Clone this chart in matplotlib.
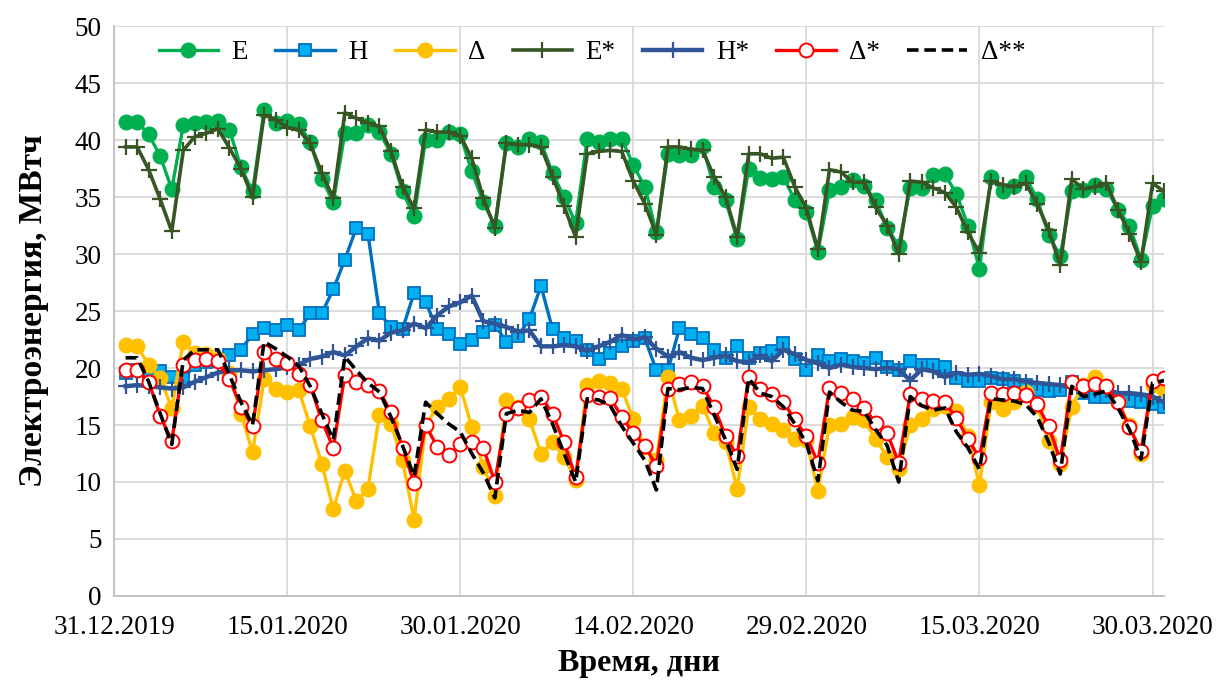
import pandas as pd
import matplotlib.pyplot as plt
import matplotlib.dates as mdates

plt.rcParams['font.family'] = ['Liberation Serif', 'DejaVu Serif']

days = pd.date_range("2020-01-01", periods=91, freq="D")

E = [41.55, 41.6, 40.5, 38.6, 35.7, 41.3, 41.5, 41.6, 41.7, 40.9,
     37.6, 35.5, 42.6, 41.5, 41.7, 41.4, 39.85, 36.55, 34.6, 40.6,
     40.6, 41.3, 40.7, 38.8, 35.5, 33.3, 40.0, 40.0, 40.7, 40.5,
     37.25, 34.55, 32.5, 39.7, 39.4, 40.1, 39.8, 37.1, 35.0, 32.7,
     40.1, 39.8, 40.1, 40.1, 37.8, 35.9, 31.9, 38.8, 38.7, 38.7,
     39.5, 35.9, 34.7, 31.3, 37.5, 36.7, 36.6, 36.8, 34.7, 33.7,
     30.2, 35.6, 35.9, 36.5, 36.0, 34.7, 32.3, 30.7, 35.8, 35.8,
     36.9, 37.0, 35.3, 32.5, 28.7, 36.8, 35.5, 36.0, 36.8, 34.8,
     31.7, 29.8, 35.5, 35.6, 36.1, 35.7, 33.9, 32.5, 29.5, 34.2, 34.8]

H = [19.6, 19.8, 19.6, 19.7, 19.2, 19.0, 20.3, 20.5, 20.6, 21.1,
     21.6, 23.0, 23.5, 23.3, 23.75, 23.3, 24.8, 24.8, 26.9, 29.5,
     32.3, 31.8, 24.8, 23.6, 23.4, 26.6, 25.8, 23.4, 23.0, 22.15,
     22.45, 23.2, 23.8, 22.3, 22.8, 24.3, 27.2, 23.4, 22.6, 22.4,
     21.6, 20.8, 21.3, 21.9, 22.4, 22.6, 19.8, 19.8, 23.5, 23.0,
     22.6, 21.6, 20.9, 21.9, 20.9, 21.3, 21.5, 22.2, 20.8, 19.8,
     21.1, 20.6, 20.8, 20.6, 20.4, 20.9, 20.1, 19.8, 20.6, 20.3,
     20.3, 20.1, 19.1, 18.9, 18.9, 19.15, 19.05, 18.85, 18.5, 18.1,
     18.0, 18.1, 18.8, 17.8, 17.5, 17.5, 17.3, 17.1, 17.0, 16.8, 16.6]

D = [22.0, 21.9, 20.3, 19.1, 16.5, 22.3, 21.3, 21.2, 20.8, 19.6,
     16.0, 12.6, 19.0, 18.2, 17.9, 18.1, 14.9, 11.6, 7.6, 11.0,
     8.3, 9.4, 15.9, 15.1, 11.9, 6.7, 14.9, 16.6, 17.3, 18.35,
     14.85, 11.3, 8.8, 17.2, 16.6, 15.5, 12.5, 13.5, 12.2, 10.2,
     18.5, 18.9, 18.7, 18.2, 15.5, 13.1, 11.9, 19.2, 15.4, 15.8,
     16.7, 14.3, 13.5, 9.4, 16.6, 15.5, 15.1, 14.6, 13.8, 13.7,
     9.2, 15.0, 15.1, 15.7, 15.4, 13.8, 12.2, 11.1, 15.0, 15.5,
     16.4, 16.7, 16.2, 14.0, 9.7, 17.0, 16.4, 17.0, 17.9, 16.7,
     13.6, 11.6, 16.6, 18.5, 19.2, 18.4, 17.0, 15.0, 12.5, 18.5, 18.1]

E_s = [39.4, 39.4, 37.4, 34.8, 32.0, 39.1, 40.3, 40.6, 41.0, 39.3,
       37.5, 35.0, 42.2, 41.8, 41.1, 40.9, 39.7, 37.1, 34.9, 42.4,
       41.9, 41.5, 41.2, 39.0, 35.9, 34.0, 40.9, 40.7, 40.7, 40.4,
       38.4, 34.9, 32.3, 39.7, 39.6, 39.6, 39.4, 36.8, 34.2, 31.5,
       38.8, 39.0, 39.1, 39.0, 36.4, 34.4, 31.7, 39.4, 39.4, 39.2,
       39.1, 36.8, 35.0, 31.5, 38.8, 38.8, 38.4, 38.5, 35.9, 34.0,
       30.4, 37.4, 37.2, 36.3, 36.3, 34.1, 32.5, 30.0, 36.4, 36.3,
       35.8, 35.4, 34.1, 31.9, 30.1, 36.4, 36.1, 35.9, 36.2, 34.4,
       32.1, 29.0, 36.6, 35.7, 35.9, 36.2, 33.9, 31.8, 29.3, 36.2, 35.5]

H_s = [18.4, 18.5, 18.4, 18.3, 18.2, 18.3, 18.8, 19.2, 19.6, 19.8,
       19.8, 19.7, 19.8, 19.9, 20.05, 20.3, 20.8, 21.0, 21.4, 21.1,
       21.9, 22.6, 22.4, 23.1, 23.3, 23.9, 23.5, 24.6, 25.4, 25.75,
       26.35, 24.1, 23.9, 23.6, 23.2, 23.3, 21.9, 21.9, 22.0, 21.9,
       21.5, 21.9, 22.3, 22.9, 22.5, 22.7, 21.7, 21.0, 21.4, 20.9,
       20.7, 20.9, 21.1, 20.6, 20.5, 21.1, 20.6, 21.6, 21.2, 20.7,
       20.4, 20.0, 20.3, 20.1, 20.0, 19.9, 20.0, 19.9, 18.9, 19.9,
       19.7, 19.2, 19.6, 19.4, 19.5, 19.3, 19.0, 19.05, 18.8, 18.7,
       18.6, 18.5, 18.3, 18.1, 18.1, 18.1, 17.8, 17.8, 17.7, 17.5, 17.0]

D_s = [19.8, 19.8, 18.8, 15.8, 13.6, 20.3, 20.7, 20.8, 20.6, 19.0,
       16.6, 14.9, 21.4, 20.8, 20.4, 19.5, 18.5, 15.4, 13.0, 19.4,
       18.8, 18.5, 18.0, 16.1, 13.0, 9.9, 15.0, 13.1, 12.4, 13.3,
       13.5, 13.0, 10.0, 16.0, 16.5, 17.2, 17.5, 16.0, 13.5, 10.4,
       17.6, 17.5, 17.4, 15.7, 14.3, 13.15, 11.4, 18.2, 18.6, 18.8,
       18.4, 16.6, 14.0, 12.3, 19.2, 18.2, 17.7, 17.0, 15.5, 14.0,
       11.7, 18.25, 17.8, 17.3, 16.5, 15.2, 14.3, 11.7, 17.7, 17.3,
       17.1, 17.0, 15.6, 13.8, 12.1, 17.8, 17.75, 17.8, 17.6, 16.8,
       14.9, 11.9, 18.8, 18.4, 18.6, 18.4, 17.0, 14.8, 12.7, 18.9, 19.1]

D_ss = [20.9, 20.9, 18.8, 16.0, 13.3, 20.7, 21.6, 21.6, 21.6, 19.4,
        17.0, 15.0, 22.3, 21.7, 21.0, 20.2, 18.4, 16.0, 13.7, 21.0,
        19.8, 18.7, 17.9, 15.7, 13.2, 10.5, 17.0, 16.0, 15.1, 14.4,
        12.5, 10.8, 8.6, 16.0, 16.3, 16.1, 17.3, 15.1, 12.5, 10.0,
        17.3, 17.2, 16.7, 14.9, 13.4, 11.9, 9.3, 18.2, 18.1, 18.3,
        18.2, 15.9, 13.7, 11.1, 19.1, 17.8, 17.5, 16.6, 15.1, 13.4,
        10.1, 17.9, 17.0, 16.3, 16.2, 14.6, 13.2, 10.0, 17.5, 16.7,
        16.3, 16.5, 14.4, 13.0, 11.1, 17.3, 17.2, 17.1, 16.8, 15.7,
        13.5, 10.7, 18.4, 17.5, 17.7, 18.0, 16.5, 14.6, 12.0, 18.7, 18.9]

fig = plt.figure(figsize=(12.16, 6.87), dpi=100)
ax = fig.add_axes([0.0938, 0.1325, 0.8635, 0.8295])

ax.plot(days, E, color="#00B050", lw=2.4, marker="o", ms=10.5, label="E")
ax.plot(days, H, color="#0070C0", lw=2.4, marker="s", ms=9,
        mfc="#00B0F0", mec="#0070C0", mew=1.3, label="H")
ax.plot(days, D, color="#FFC000", lw=2.4, marker="o", ms=10.5, label="Δ")
ax.plot(days, E_s, color="#375623", lw=2.6, marker="+", ms=11, mew=1.6, label="E*")
ax.plot(days, H_s, color="#2F5597", lw=3.2, marker="+", ms=11, mew=1.6, label="H*")
ax.plot(days, D_s, color="#FF0000", lw=2.4, marker="o", ms=10, mfc="white",
        mec="#FF0000", mew=1.4, label="Δ*")
ax.plot(days, D_ss, color="black", lw=2.6, ls=(0, (3.2, 1.6)), label="Δ**")

ax.set_xlim(pd.Timestamp("2019-12-31"), pd.Timestamp("2020-03-31"))
ax.set_ylim(0, 50)
ax.set_yticks(range(0, 51, 5))
ax.set_xticks(pd.date_range("2019-12-31", periods=7, freq="15D"))
ax.xaxis.set_major_formatter(mdates.DateFormatter("%d.%m.%Y"))

ax.grid(True, color="#D9D9D9", lw=1.3)
ax.set_axisbelow(True)
for s in ["top", "right"]:
    ax.spines[s].set_visible(False)
for s in ["left", "bottom"]:
    ax.spines[s].set_color("#BFBFBF")
    ax.spines[s].set_linewidth(1.3)
ax.tick_params(length=0, labelsize=19.5)
ax.tick_params(axis="x", pad=14)
ax.tick_params(axis="y", pad=9)

ax.set_ylabel("Электроэнергия, МВтч", fontsize=24, fontweight="bold", labelpad=18)
ax.set_xlabel("Время, дни", fontsize=23, fontweight="bold", labelpad=6)

ax.legend(loc="center", bbox_to_anchor=(0.455, 0.953), ncol=7, frameon=False,
          fontsize=19.5, handlelength=2.2, handletextpad=0.5, columnspacing=1.0)

fig.savefig("out.png", dpi=100)
